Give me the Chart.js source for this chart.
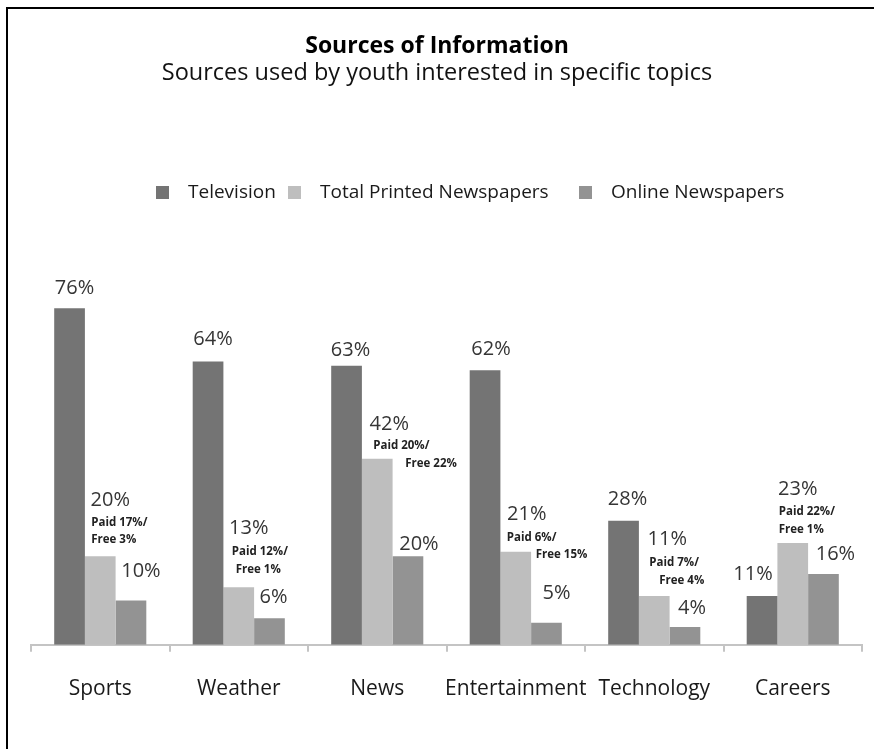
<!DOCTYPE html>
<html>
<head>
<meta charset="utf-8">
<title>Sources of Information</title>
<script src="https://cdn.jsdelivr.net/npm/chart.js@4/dist/chart.umd.min.js"></script>
<style>
  html, body { margin: 0; padding: 0; background: #fff; }
  #frame { position: absolute; left: 6px; top: 7px; width: 900px; height: 800px; border: 2px solid #000; }
  #wrap { position: absolute; left: 0; top: 0; width: 874px; height: 749px; }
</style>
</head>
<body>
<div id="frame"></div>
<div id="wrap"><canvas id="chart" width="874" height="749"></canvas></div>
<script>
// --- DATA ---
const topics = ['Sports', 'Weather', 'News', 'Entertainment', 'Technology', 'Careers'];
const seriesNames = ['Television', 'Total Printed Newspapers', 'Online Newspapers'];
const television = [76, 64, 63, 62, 28, 11];
const printed = [20, 13, 42, 21, 11, 23];
const online = [10, 6, 20, 5, 4, 16];
// printed split: paid / free
const printedPaid = [17, 12, 20, 6, 7, 22];
const printedFree = [3, 1, 22, 15, 4, 1];

const titleText = 'Sources of Information';
const subtitleText = 'Sources used by youth interested in specific topics';

// --- STYLE ---
const FONT = "'Open Sans', 'Noto Sans', sans-serif";
const colors = ['#747474', '#bebebe', '#939393'];

// value label offsets from bar centre / bar top [dx, dy], per series then per topic
const valueOffsets = [
    [[5, -20], [5, -22], [4, -16], [6, -21], [4, -22], [-9, -22]],
    [[10, -56], [10, -59], [12, -35], [11, -38], [13, -57], [5, -54]],
    [[10, -29], [4, -21], [11, -12], [10, -29], [7, -19], [12, -20]]
];
// paid/free note lines: left x offset and centre y offset from printed bar centre / top
const paidOffsets = [[-9, -34], [-7, -36], [-4, -13], [-9, -14], [-5, -33], [-14, -31]];
const freeOffsets = [[-9, -17], [-3, -18], [28, 5], [20, 3], [5, -15], [-14, -13]];
// legend square positions
const legendX = [156, 288, 579];

// --- LABELS PLUGIN ---
const barLabels = {
    id: 'barLabels',
    afterDatasetsDraw(chart) {
        const ctx = chart.ctx;
        ctx.save();
        chart.data.datasets.forEach((ds, di) => {
            const meta = chart.getDatasetMeta(di);
            meta.data.forEach((bar, i) => {
                const [dx, dy] = valueOffsets[di][i];
                ctx.font = '20px ' + FONT;
                ctx.fillStyle = '#353535';
                ctx.textAlign = 'center';
                ctx.textBaseline = 'middle';
                ctx.fillText(ds.data[i] + '%', bar.x + dx, bar.y + dy);
                if (di === 1) {
                    ctx.font = 'bold 11.5px ' + FONT;
                    ctx.fillStyle = '#222';
                    ctx.textAlign = 'left';
                    ctx.fillText('Paid ' + printedPaid[i] + '%/', bar.x + paidOffsets[i][0], bar.y + paidOffsets[i][1]);
                    ctx.fillText('Free ' + printedFree[i] + '%', bar.x + freeOffsets[i][0], bar.y + freeOffsets[i][1]);
                }
            });
        });
        ctx.restore();
    }
};

// --- HEADER PLUGIN (title, subtitle, legend) ---
const header = {
    id: 'header',
    afterDraw(chart) {
        const ctx = chart.ctx;
        ctx.save();
        ctx.textBaseline = 'middle';
        ctx.textAlign = 'center';
        ctx.fillStyle = '#000';
        ctx.font = 'bold 23px ' + FONT;
        ctx.fillText(titleText, 437, 46);
        ctx.fillStyle = '#111';
        ctx.font = '23.5px ' + FONT;
        ctx.fillText(subtitleText, 437, 73);

        ctx.font = '19px ' + FONT;
        ctx.textAlign = 'left';
        const y = 193;
        chart.data.datasets.forEach((ds, i) => {
            const x = legendX[i];
            ctx.fillStyle = ds.backgroundColor;
            ctx.fillRect(x, y - 7, 13, 13);
            ctx.fillStyle = '#1a1a1a';
            ctx.fillText(ds.label, x + 32, y);
        });
        ctx.restore();
    }
};

new Chart(document.getElementById('chart'), {
    type: 'bar',
    data: {
        labels: topics,
        datasets: [
            { label: seriesNames[0], data: television, backgroundColor: colors[0] },
            { label: seriesNames[1], data: printed, backgroundColor: colors[1] },
            { label: seriesNames[2], data: online, backgroundColor: colors[2] }
        ]
    },
    options: {
        responsive: false,
        animation: false,
        categoryPercentage: 0.665,
        barPercentage: 1,
        layout: { padding: { left: 31, right: 12, top: 202, bottom: 22 } },
        plugins: {
            legend: { display: false },
            tooltip: { enabled: false },
            title: { display: false },
            subtitle: { display: false }
        },
        scales: {
            x: {
                grid: { drawOnChartArea: false, drawTicks: true, tickLength: 7, color: '#c4c4c4', lineWidth: 2, offset: true },
                border: { display: true, color: '#c4c4c4', width: 2 },
                ticks: { color: '#1a1a1a', font: { family: FONT, size: 21 }, padding: 25, maxRotation: 0, minRotation: 0, autoSkip: false }
            },
            y: { display: false, min: 0, max: 100 }
        }
    },
    plugins: [barLabels, header]
});
</script>
</body>
</html>
